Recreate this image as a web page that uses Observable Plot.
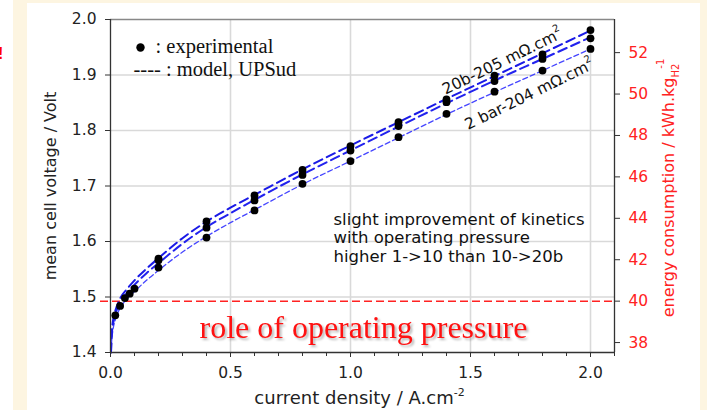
<!DOCTYPE html>
<html><head><meta charset="utf-8">
<script src="https://cdn.jsdelivr.net/npm/d3@7"></script>
<script src="https://cdn.jsdelivr.net/npm/@observablehq/plot@0.6"></script>
<style>
html,body{margin:0;padding:0;width:707px;height:410px;overflow:hidden;background:#fdf5e1;}
#wrap{position:relative;width:707px;height:410px;}
#strip{position:absolute;left:0;top:0;width:13px;height:410px;background:#fff;}
#panel{position:absolute;left:27px;top:3px;width:673px;height:407px;background:#fff;}
#bang{position:absolute;left:-8px;top:44px;color:#f00;font:bold 17px "Liberation Sans";}
#chart{position:absolute;left:0;top:0;}
</style></head><body>
<div id="wrap"><div id="strip"></div><div id="bang">!!</div><div id="panel"></div><div id="chart"></div></div>
<script>
// ---- data ----
const expCurrent = [0.2, 0.4, 0.6, 0.8, 1.0, 1.2, 1.4, 1.6, 1.8, 2.0];
const exp20b = [1.569, 1.636, 1.683, 1.729, 1.772, 1.815, 1.856, 1.899, 1.937, 1.981];
const exp10b = [1.566, 1.625, 1.674, 1.720, 1.764, 1.808, 1.851, 1.889, 1.929, 1.966];
const exp2b  = [1.553, 1.607, 1.656, 1.704, 1.745, 1.788, 1.830, 1.870, 1.908, 1.947];
const lowCurrent = [0.02, 0.04, 0.06, 0.08, 0.1];
const lowVoltage = [1.467, 1.484, 1.498, 1.506, 1.515];

const modelCurrent = [0.002, 0.005, 0.01, 0.02, 0.04, 0.07, 0.1, 0.15, 0.2, 0.3, 0.4, 0.5, 0.6, 0.8, 1.0, 1.2, 1.4, 1.6, 1.8, 2.0];
const model20b = [1.400, 1.437, 1.456, 1.475, 1.497, 1.515, 1.530, 1.551, 1.570, 1.606, 1.636, 1.661, 1.684, 1.730, 1.773, 1.815, 1.857, 1.898, 1.939, 1.980];
const model10b = [1.400, 1.430, 1.449, 1.468, 1.490, 1.508, 1.522, 1.543, 1.561, 1.596, 1.626, 1.651, 1.675, 1.721, 1.764, 1.807, 1.849, 1.890, 1.929, 1.968];
const model2b  = [1.400, 1.422, 1.440, 1.459, 1.480, 1.497, 1.510, 1.530, 1.548, 1.581, 1.609, 1.634, 1.657, 1.703, 1.745, 1.787, 1.829, 1.869, 1.908, 1.947];

const xMajorTicks = [0, 0.5, 1.0, 1.5, 2.0];
const xMinorTicks = [0.1, 0.2, 0.3, 0.4, 0.6, 0.7, 0.8, 0.9, 1.1, 1.2, 1.3, 1.4, 1.6, 1.7, 1.8, 1.9, 2.1];
const yTicks = [1.4, 1.5, 1.6, 1.7, 1.8, 1.9, 2.0];
const yGridTicks = [1.5, 1.6, 1.7, 1.8, 1.9];
const energyTicks = [38, 40, 42, 44, 46, 48, 50, 52];
const energyPerVolt = 26.8;   // kWh/kg H2 per volt
const energyThreshold = 40;
const label20b = "20b-205 mΩ.cm2";
const label2b = "2 bar-204 mΩ.cm2";
const roleTitle = "role of operating pressure";

const pts = (xs, ys) => xs.map((x, i) => ({x, v: ys[i]}));
const expAll = [...pts(expCurrent, exp20b), ...pts(expCurrent, exp10b), ...pts(expCurrent, exp2b), ...pts(lowCurrent, lowVoltage)];

const RED = "#ff2222";
const chart = Plot.plot({
  width: 707, height: 410,
  marginLeft: 110, marginRight: 93, marginTop: 19, marginBottom: 58,
  x: {domain: [0, 2.1]},
  y: {domain: [1.4, 2.0]},
  style: {background: "transparent", fontFamily: "DejaVu Sans", fontSize: "15px", color: "#222", overflow: "visible"},
  marks: [
    Plot.gridX([0.5, 1.0, 1.5, 2.0], {stroke: "#d9d9d9", strokeOpacity: 1, strokeWidth: 1.6}),
    Plot.gridY(yGridTicks, {stroke: "#d9d9d9", strokeOpacity: 1, strokeWidth: 1.6}),
    Plot.ruleY([2.0], {stroke: "#888", strokeWidth: 1.5}),
    Plot.ruleY([energyThreshold / energyPerVolt], {stroke: RED, strokeWidth: 1.5, strokeDasharray: "8,4", insetLeft: -10}),
    Plot.line(pts(modelCurrent, model2b), {x: "x", y: "v", stroke: "#4646ff", strokeWidth: 1.3, strokeDasharray: "5,3", curve: "monotone-x"}),
    Plot.line(pts(modelCurrent, model10b), {x: "x", y: "v", stroke: "#2222ee", strokeWidth: 2, strokeDasharray: "9,5", curve: "monotone-x"}),
    Plot.line(pts(modelCurrent, model20b), {x: "x", y: "v", stroke: "#1a1ae6", strokeWidth: 2, strokeDasharray: "9,5", curve: "monotone-x"}),
    Plot.dot(expAll, {x: "x", y: "v", r: 3.9, fill: "#000"}),
    Plot.ruleX([0], {stroke: "#333", strokeWidth: 1.3}),
    Plot.ruleX([2.1], {stroke: "#333", strokeWidth: 1.3}),
    Plot.ruleY([1.4], {stroke: "#333", strokeWidth: 1.3}),
    Plot.axisX(xMajorTicks, {tickSize: 5, tickPadding: 9, tickFormat: d => d.toFixed(1), label: null, stroke: "#333", fill: "#222", fontSize: 15.5}),
    Plot.axisX(xMinorTicks, {tickSize: 4, tickFormat: () => "", label: null, stroke: "#333"}),
    Plot.axisY(yTicks, {anchor: "left", tickSize: 5, tickPadding: 9, tickFormat: d => d.toFixed(1), label: null, stroke: "#333", fill: "#222", fontSize: 15.5}),
    Plot.axisY(energyTicks.map(e => e / energyPerVolt), {anchor: "right", tickSize: 5, tickPadding: 9, tickFormat: d => String(Math.round(d * energyPerVolt)), label: null, stroke: "#333", fill: RED, fontSize: 15.5}),
    // axis titles
    Plot.text(["mean cell voltage / Volt"], {text: d => d, frameAnchor: "left", dx: -60, rotate: -90, fontSize: 16, fill: "#222", lineAnchor: "middle", textAnchor: "middle"}),
    Plot.text(["current density / A.cm-2"], {text: d => d, frameAnchor: "bottom", dy: 46, dx: -3, fontSize: 18, fill: "#222", lineAnchor: "middle", textAnchor: "middle"}),
    Plot.text(["energy consumption / kWh.kgH2-1"], {text: d => d, frameAnchor: "right", dx: 54, dy: 2, rotate: -90, fontSize: 16, fill: RED, lineAnchor: "middle", textAnchor: "middle"}),
    // legend
    Plot.dot([0], {frameAnchor: "top-left", dx: 30, dy: 28, r: 4.2, fill: "#000"}),
    Plot.text([": experimental"], {text: d => d, frameAnchor: "top-left", dx: 45, dy: 26.6, textAnchor: "start", lineAnchor: "middle", fontFamily: "Liberation Serif", fontSize: 20.5, fill: "#111"}),
    Plot.text(["---- : model, UPSud"], {text: d => d, frameAnchor: "top-left", dx: 23, dy: 49.6, textAnchor: "start", lineAnchor: "middle", fontFamily: "Liberation Serif", fontSize: 20.5, fill: "#111"}),
    // curve labels
    Plot.text([label20b], {text: d => d, frameAnchor: "top-left", dx: 392, dy: 42, rotate: -26, textAnchor: "middle", lineAnchor: "middle", fontSize: 15.5, fill: "#111"}),
    Plot.text([label2b], {text: d => d, frameAnchor: "top-left", dx: 419, dy: 75, rotate: -26, textAnchor: "middle", lineAnchor: "middle", fontSize: 15.5, fill: "#111"}),
    // annotation
    Plot.text(["slight improvement of kinetics\nwith operating pressure\nhigher 1->10 than 10->20b"], {text: d => d, frameAnchor: "top-left", dx: 223, dy: 218, textAnchor: "start", lineAnchor: "middle", lineHeight: 1.13, fontSize: 16.5, fill: "#111"}),
    Plot.text([roleTitle], {text: d => d, frameAnchor: "top-left", dx: 89, dy: 308, textAnchor: "start", lineAnchor: "middle", fontFamily: "Liberation Serif", fontSize: 32, fill: "#ff1111"})
  ]
});
document.getElementById("chart").appendChild(chart);

function rich(plain, parts) {
  d3.select(chart).selectAll("text").filter(function () { return this.textContent === plain; }).each(function () {
    const t = d3.select(this);
    t.text(null);
    parts.forEach(p => {
      const s = t.append("tspan").text(p.text);
      if (p.dy) s.attr("dy", p.dy);
      if (p.dx) s.attr("dx", p.dx);
      if (p.size) s.attr("font-size", p.size);
    });
  });
}
rich("current density / A.cm-2", [{text: "current density / A.cm"}, {text: "-2", dy: -8, size: 11}]);
rich("energy consumption / kWh.kgH2-1", [{text: "energy consumption / kWh.kg"}, {text: "H2", dy: 5, size: 10}, {text: "-1", dy: -15, dx: -5, size: 10}]);
rich(label20b, [{text: "20b-205 mΩ.cm"}, {text: "2", dy: -8, size: 10}]);
rich(label2b, [{text: "2 bar-204 mΩ.cm"}, {text: "2", dy: -8, size: 10}]);
d3.select(chart).selectAll("text").filter(function () { return this.textContent === roleTitle; })
  .style("filter", "drop-shadow(2px 2px 1px rgba(0,0,0,0.28))");
</script>
</body></html>
